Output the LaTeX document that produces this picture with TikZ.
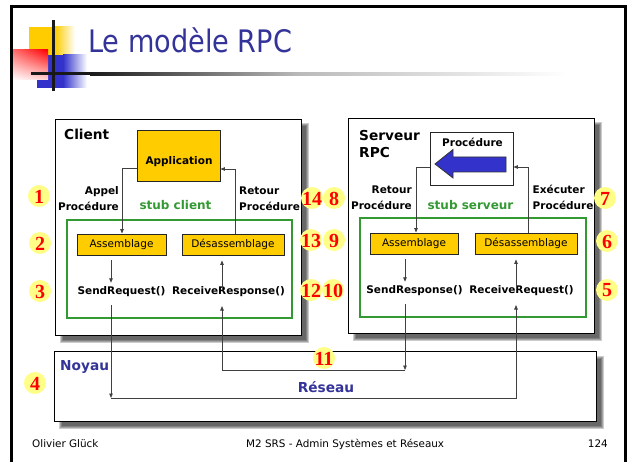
\documentclass[tikz,border=0pt]{standalone}
\usepackage{fontspec}
\setmainfont{DejaVu Sans}
\newfontfamily\badgefont{Liberation Serif}
\usetikzlibrary{arrows.meta,shadings}
\definecolor{titleblue}{HTML}{333399}
\definecolor{boxyellow}{HTML}{FFCC00}
\definecolor{stubgreen}{HTML}{339933}
\definecolor{badgeyellow}{HTML}{FFFF88}
\definecolor{arrowblue}{HTML}{3333CC}
\definecolor{decoblue}{HTML}{3333CC}
\tikzset{
  bigbox/.style={draw=black, line width=0.8pt, fill=white, inner sep=0pt},
  stubbox/.style={draw=stubgreen, line width=1.3pt, inner sep=0pt},
  ybox/.style={draw=black!85, line width=0.9pt, fill=boxyellow, inner sep=0pt, font=\fontsize{10.5}{12}\selectfont},
  lbl/.style={font=\bfseries\fontsize{10.5}{12}\selectfont, inner sep=0pt},
  head/.style={font=\bfseries\fontsize{13.7}{16}\selectfont, inner sep=0pt},
  stubtxt/.style={font=\bfseries\fontsize{12}{14}\selectfont, text=stubgreen, inner sep=0pt},
  kern/.style={font=\bfseries\fontsize{13.7}{16}\selectfont, text=titleblue, inner sep=0pt},
  foot/.style={font=\fontsize{10.4}{12}\selectfont, inner sep=0pt},
  conn/.style={draw=black!75, line width=0.8pt},
  arr/.style={conn, -{Triangle[length=4.5pt,width=3.5pt]}},
  badgenum/.style={font=\badgefont\bfseries\fontsize{20}{20}\selectfont, text=red, inner sep=0pt},
  badgebg/.style={fill=badgeyellow},
  shadowlayer/.style={fill=black, opacity=0.2},
}
\newcommand\softshadow[4]{% x1 y1 x2 y2 of box
  \foreach \k in {0,1,2,3}{
    \fill[shadowlayer] (#1+6+\k-1.5,#2+6+\k-1.5) rectangle (#3+6-\k+1.5,#4+6-\k+1.5);
  }}
\newcommand\badge[4]{% name, x, y, number
  \fill[badgebg] (#2,#3) circle[radius=11pt];
  \node[badgenum] (#1) at (#2,#3+0.5) {#4};}
\begin{document}
\begin{tikzpicture}[x=1pt,y=-1pt]
\useasboundingbox (0,0) rectangle (628,462);
\fill[white] (0,0) rectangle (628,462);

% title decoration
\fill[boxyellow] (29,27) rectangle (55,56);
\shade[left color=boxyellow, right color=white] (55,27) rectangle (75,56);
\fill[decoblue] (37,55) rectangle (63,88);
\shade[left color=decoblue, right color=white] (63,55) rectangle (87,88);
\shade[upper left=red!55, upper right=red, lower left=white, lower right=red!15] (12,50) rectangle (48,80);
\fill[black!90] (31,72.5) rectangle (90,75.5);
\shade[left color=black!90, right color=black!27] (90,72.5) rectangle (300,75.5);
\shade[left color=black!27, right color=white] (300,72.5) rectangle (567,75.5);
\fill[black!90] (51.5,20) rectangle (54.5,91);

\node[anchor=base west, inner sep=0pt, text=titleblue, font=\fontsize{31}{36}\selectfont] (title) at (88,53) {\scalebox{0.875}[1]{Le modèle RPC}};

% slide frame
\draw[line width=3pt] (11,470) -- (11,6.5) -- (625.5,6.5) -- (625.5,470);

% shadows
\softshadow{55}{119}{301}{335}
\softshadow{348}{118}{594}{333}
\softshadow{54}{351}{596}{421}

% big boxes
\node[bigbox, minimum width=246pt, minimum height=216pt] (client) at (178,227) {};
\node[bigbox, minimum width=246pt, minimum height=215pt] (server) at (471,225.5) {};
\node[bigbox, minimum width=542pt, minimum height=70pt] (noyau) at (325,386) {};

\node[stubbox, minimum width=225pt, minimum height=98pt] (stubC) at (179.5,269) {};
\node[stubbox, minimum width=226pt, minimum height=99pt] (stubS) at (473,267.5) {};

% headings
\node[head, anchor=base west] (clientlbl) at (64,140) {Client};
\node[head, anchor=base west] (servlbl1) at (359,141) {Serveur};
\node[head, anchor=base west] (servlbl2) at (359,158) {RPC};
\node[kern, anchor=base west] (noyaulbl) at (60,370) {Noyau};
\node[kern, anchor=base] (reseaulbl) at (326,392) {Réseau};

% application / procedure
\node[ybox, minimum width=83pt, minimum height=51pt] (app) at (178.5,155.5) {};
\node[lbl, anchor=base] (apptxt) at (179,164.5) {Application};
\node[draw=black!85, line width=0.9pt, fill=white, inner sep=0pt, minimum width=83pt, minimum height=53pt] (proc) at (471.5,158.5) {};
\node[lbl, anchor=base] (proctxt) at (472.5,147) {Procédure};
\draw[fill=arrowblue, draw=black!80, line width=0.8pt] (435,164) -- (453,149.5) -- (453,157) -- (506,157) -- (506,172) -- (453,172) -- (453,178) -- cycle;

% side labels
\node[lbl, anchor=base east] (appel1) at (119,195) {Appel};
\node[lbl, anchor=base east] (appel2) at (119,211) {Procédure};
\node[lbl, anchor=base west] (retC1) at (239,195) {Retour};
\node[lbl, anchor=base west] (retC2) at (239,211) {Procédure};
\node[stubtxt, anchor=base] (stubClbl) at (175.5,210) {stub client};
\node[lbl, anchor=base east] (retS1) at (412,194) {Retour};
\node[lbl, anchor=base east] (retS2) at (412,210) {Procédure};
\node[lbl, anchor=base west] (exe1) at (532.5,194) {Exécuter};
\node[lbl, anchor=base west] (exe2) at (532.5,210) {Procédure};
\node[stubtxt, anchor=base] (stubSlbl) at (470.5,209) {stub serveur};

% inner boxes
\node[ybox, minimum width=89pt, minimum height=21pt] (assemC) at (121.5,244.5) {Assemblage};
\node[ybox, minimum width=102pt, minimum height=21pt] (desC) at (233,244.5) {Désassemblage};
\node[ybox, minimum width=88pt, minimum height=21pt] (assemS) at (414,243.5) {Assemblage};
\node[ybox, minimum width=102pt, minimum height=21pt] (desS) at (526,243.5) {Désassemblage};

\node[lbl, anchor=base] (sendReq) at (121.5,294) {SendRequest()};
\node[lbl, anchor=base] (recvResp) at (228.5,294) {ReceiveResponse()};
\node[lbl, anchor=base] (sendResp) at (414.5,293) {SendResponse()};
\node[lbl, anchor=base] (recvReq) at (521.5,293) {ReceiveRequest()};

% connector corner points
\coordinate (c1) at (122,168);
\coordinate (c2) at (235,169);
\coordinate (s1) at (416,167);
\coordinate (s2) at (528,167);
\coordinate (n1) at (111,398);
\coordinate (n2) at (516,398);
\coordinate (m1) at (405,370);
\coordinate (m2) at (222,370);

% client connectors
\draw[arr] (app.west |- c1) -- (c1) -- (assemC.north -| c1);
\draw[arr] (desC.north -| c2) -- (c2) -- (app.east |- c2);
\draw[arr] ([yshift=-5pt]assemC.south -| n1) -- ([yshift=3pt]sendReq.north -| n1);
\draw[arr] ([yshift=-4pt]recvResp.north -| m2) -- ([yshift=-5pt]desC.south -| m2);

% server connectors
\draw[arr] (proc.west |- s1) -- (s1) -- (assemS.north -| s1);
\draw[arr] (desS.north -| s2) -- (s2) -- (proc.east |- s2);
\draw[arr] ([yshift=-5pt]assemS.south -| m1) -- ([yshift=3pt]sendResp.north -| m1);
\draw[arr] ([yshift=-4pt]recvReq.north -| n2) -- ([yshift=-5pt]desS.south -| n2);

% network connectors
\draw[arr] ([yshift=-11pt]sendReq.base -| n1) -- (n1);
\draw[arr] (n1) -- (n2) -- ([yshift=-12pt]recvReq.base -| n2);
\draw[arr] ([yshift=-11pt]sendResp.base -| m1) -- (m1);
\draw[arr] (m1) -- (m2) -- ([yshift=-12pt]recvResp.base -| m2);

% badges
\badge{b1}{39}{196}{1}
\badge{b2}{40}{243}{2}
\badge{b3}{40}{291}{3}
\badge{b4}{35}{383}{4}
\badge{b5}{607}{290}{5}
\badge{b6}{607}{241}{6}
\badge{b7}{605}{198}{7}
\badge{b8}{334}{198}{8}
\badge{b9}{334}{240}{9}
\badge{b10}{333}{290}{10}
\badge{b11}{324}{358}{11}
\badge{b12}{311}{290}{12}
\badge{b13}{311}{240}{13}
\badge{b14}{312}{198}{14}

% footer
\node[foot, anchor=base west] (author) at (32,447) {Olivier Glück};
\node[foot, anchor=base west] (course) at (246,447) {M2 SRS - Admin Systèmes et Réseaux};
\node[foot, anchor=base east] (page) at (608,447) {124};
\end{tikzpicture}
\end{document}
